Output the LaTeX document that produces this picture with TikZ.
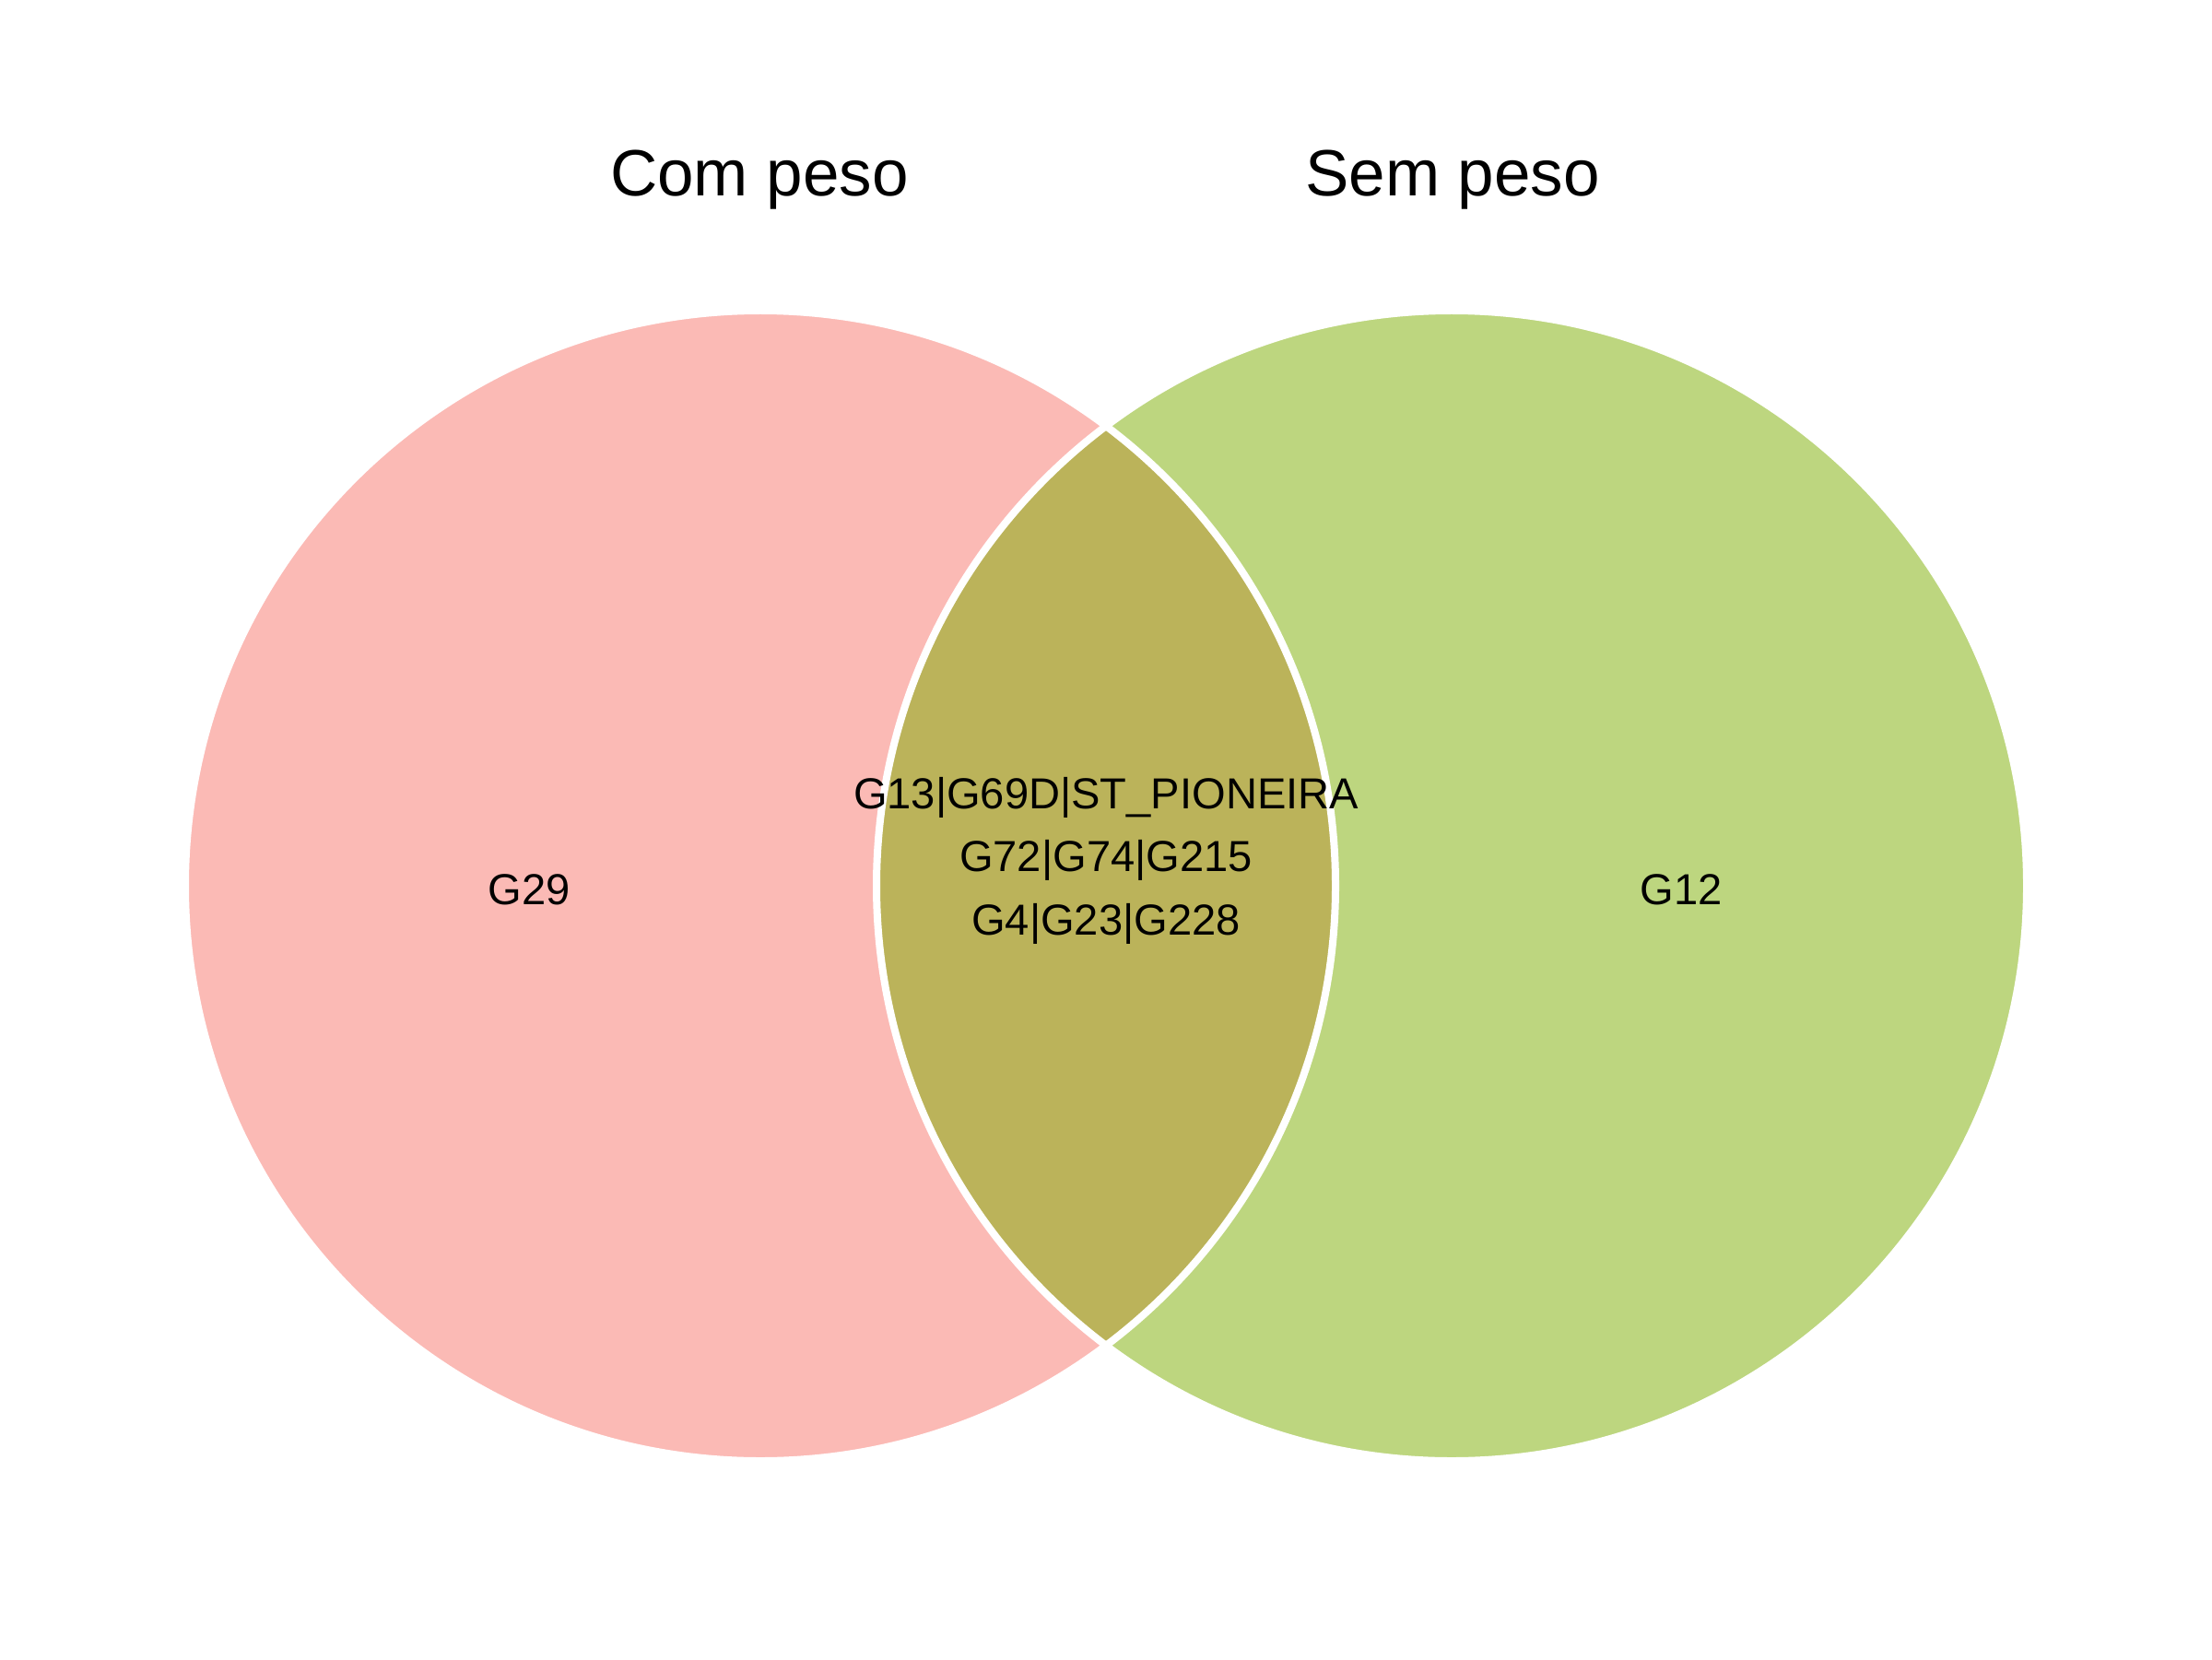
\documentclass[tikz,border=0pt]{standalone}
\usepackage{fontspec}
\setmainfont{Liberation Sans}
\definecolor{setA}{HTML}{F8766D}
\definecolor{setB}{HTML}{7CAE00}
\begin{document}
\begin{tikzpicture}
\tikzset{
  setfill/.style={fill=#1, fill opacity=0.5},
  setline/.style={draw=white, line width=0.08cm},
  title/.style={anchor=base, inner sep=0pt, font=\fontsize{20.2}{24}\selectfont},
  lab/.style={anchor=base, inner sep=0pt, font=\fontsize{13.4}{16}\selectfont}
}
\useasboundingbox (0,0) rectangle (24,18);
\fill[white] (0,0) rectangle (24,18);
\coordinate (cA) at (8.25,8.39);
\coordinate (cB) at (15.75,8.39);
\path[setfill=setA] (cA) circle (6.24);
\path[setfill=setB] (cB) circle (6.24);
\path[setline] (cA) circle (6.24);
\path[setline] (cB) circle (6.24);
\node[title] (tA) at (8.24,15.87) {Com peso};
\node[title] (tB) at (15.76,15.87) {Sem peso};
\node[lab] (a) at (5.74,8.19) {G29};
\node[lab] (b) at (18.24,8.19) {G12};
\node[lab] (ab1) at (12.0,9.23) {G13|G69D|ST\_PIONEIRA};
\node[lab] (ab2) at (12.0,8.55) {G72|G74|G215};
\node[lab] (ab3) at (12.0,7.86) {G4|G23|G228};
\end{tikzpicture}
\end{document}
